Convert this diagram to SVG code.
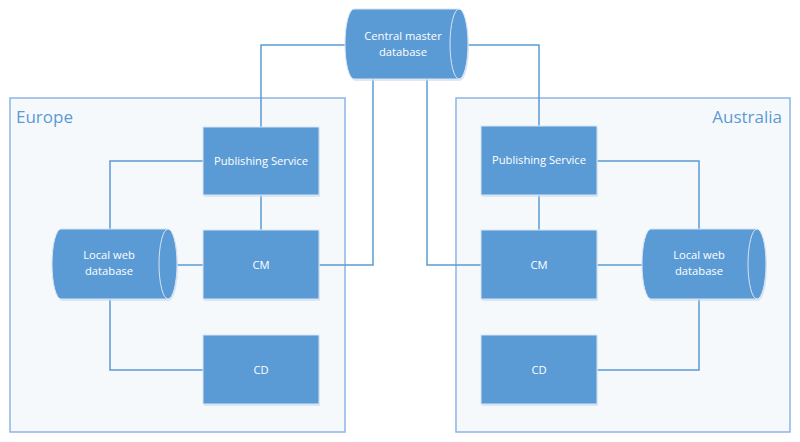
<svg xmlns="http://www.w3.org/2000/svg" width="800" height="442" viewBox="0 0 800 442">
<defs>
<style>
.region{fill:#f6f9fc;stroke:#8eb4e3;stroke-width:1.5}
.rlabel{font-family:"Open Sans","Noto Sans",sans-serif;font-size:17px;fill:#5b9bd5}
.box{fill:#5b9bd5;stroke:#d6e4f3;stroke-width:1}
.shadow{fill:#c9d8ea;opacity:0.6}
.cyl{fill:#5b9bd5;stroke:#d6e4f3;stroke-width:1}
.inner{fill:none;stroke:#d6e4f3;stroke-width:1}
.t{font-family:"Open Sans","Noto Sans",sans-serif;font-size:11.2px;fill:#ffffff;text-anchor:middle}
.conn{fill:none;stroke:#5b9bd5;stroke-width:1.5}
</style>
</defs>
<rect width="800" height="442" fill="#ffffff"/>
<g id="europe">
<rect class="region" x="10" y="98" width="335" height="334"/>
<text class="rlabel" x="16" y="123">Europe</text>
</g>
<g id="australia">
<rect class="region" x="456" y="98" width="334" height="334"/>
<text class="rlabel" x="782" y="123" text-anchor="end">Australia</text>
</g>
<g id="connectors">
<polyline class="conn" points="345,45 261,45 261,127"/>
<polyline class="conn" points="373,79 373,265 319,265"/>
<polyline class="conn" points="427,79 427,265 481,265"/>
<polyline class="conn" points="467,45 539,45 539,126"/>
<polyline class="conn" points="203,161 110,161 110,229"/>
<line class="conn" x1="261" y1="195" x2="261" y2="230"/>
<line class="conn" x1="177" y1="265" x2="203" y2="265"/>
<polyline class="conn" points="110,299 110,370 203,370"/>
<polyline class="conn" points="597,161 699,161 699,229"/>
<line class="conn" x1="539" y1="195" x2="539" y2="230"/>
<line class="conn" x1="597" y1="265" x2="642" y2="265"/>
<polyline class="conn" points="699,299 699,370 597,370"/>
</g>
<g id="central-db">
<path class="shadow" d="M355,11 L460,11 A9,35 0 0 1 460,81 L355,81 A9,35 0 0 1 355,11 Z"/>
<path class="cyl" d="M354,9 L459,9 A9,35 0 0 1 459,79 L354,79 A9,35 0 0 1 354,9 Z"/>
<path class="inner" d="M459,9 A9,35 0 0 0 459,79"/>
<text class="t" x="403" y="40">Central master</text>
<text class="t" x="403" y="56">database</text>
</g>
<g id="eu-publishing">
<rect class="shadow" x="204" y="129" width="116" height="68"/>
<rect class="box" x="203" y="127" width="116" height="68"/>
<text class="t" x="261" y="165">Publishing Service</text>
</g>
<g id="eu-cm">
<rect class="shadow" x="204" y="232" width="116" height="69"/>
<rect class="box" x="203" y="230" width="116" height="69"/>
<text class="t" x="261" y="269">CM</text>
</g>
<g id="eu-cd">
<rect class="shadow" x="204" y="337" width="116" height="69"/>
<rect class="box" x="203" y="335" width="116" height="69"/>
<text class="t" x="261" y="374">CD</text>
</g>
<g id="eu-localdb">
<path class="shadow" d="M62,231 L169,231 A9,35 0 0 1 169,301 L62,301 A9,35 0 0 1 62,231 Z"/>
<path class="cyl" d="M61,229 L168,229 A9,35 0 0 1 168,299 L61,299 A9,35 0 0 1 61,229 Z"/>
<path class="inner" d="M168,229 A9,35 0 0 0 168,299"/>
<text class="t" x="109" y="259">Local web</text>
<text class="t" x="109" y="275">database</text>
</g>
<g id="au-publishing">
<rect class="shadow" x="482" y="128" width="116" height="69"/>
<rect class="box" x="481" y="126" width="116" height="69"/>
<text class="t" x="539" y="164">Publishing Service</text>
</g>
<g id="au-cm">
<rect class="shadow" x="482" y="232" width="116" height="69"/>
<rect class="box" x="481" y="230" width="116" height="69"/>
<text class="t" x="539" y="269">CM</text>
</g>
<g id="au-cd">
<rect class="shadow" x="482" y="337" width="116" height="69"/>
<rect class="box" x="481" y="335" width="116" height="69"/>
<text class="t" x="539" y="374">CD</text>
</g>
<g id="au-localdb">
<path class="shadow" d="M652,231 L758,231 A9,35 0 0 1 758,301 L652,301 A9,35 0 0 1 652,231 Z"/>
<path class="cyl" d="M651,229 L757,229 A9,35 0 0 1 757,299 L651,299 A9,35 0 0 1 651,229 Z"/>
<path class="inner" d="M757,229 A9,35 0 0 0 757,299"/>
<text class="t" x="699" y="259">Local web</text>
<text class="t" x="699" y="275">database</text>
</g>
</svg>
